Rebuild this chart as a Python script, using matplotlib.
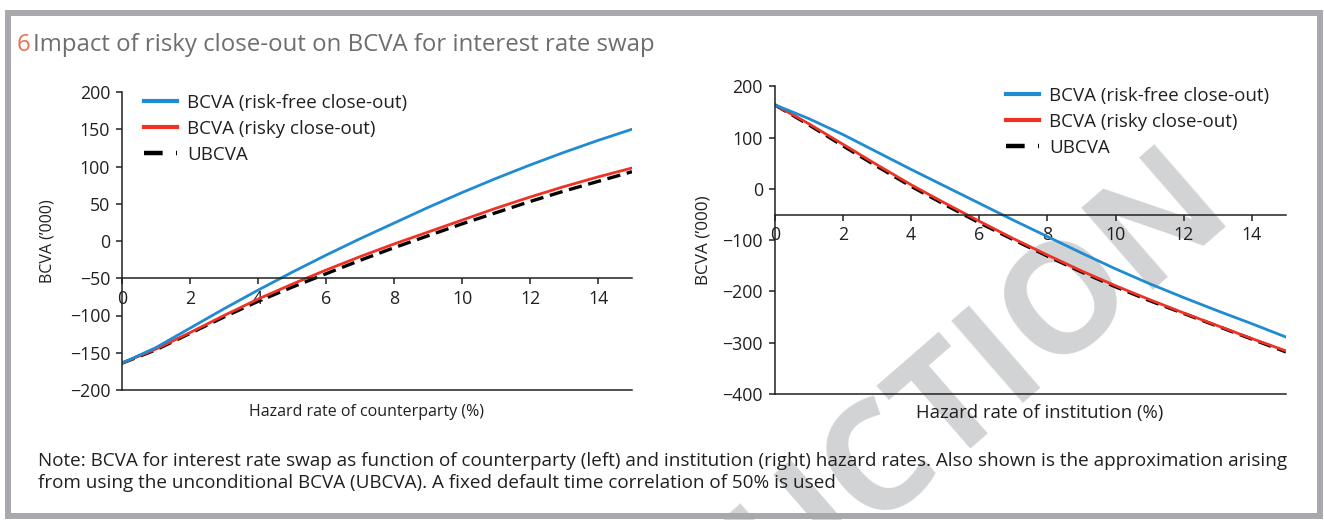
import matplotlib
matplotlib.use("Agg")
import matplotlib.pyplot as plt
from matplotlib.patches import Rectangle

plt.rcParams['font.family'] = ['Open Sans', 'DejaVu Sans']

# hazard rate grid (%)
hazard = [0, 1, 2, 3, 4, 5, 6, 7, 8, 9, 10, 11, 12, 13, 14, 15]

# left panel: vs counterparty hazard rate
cpty_riskfree = [-164, -143, -117, -91, -66, -42, -19, 3, 24, 45, 65, 84, 102, 119, 135, 150]
cpty_risky = [-164, -145, -123, -100, -78, -58, -39, -21, -4, 12, 28, 44, 59, 73, 86, 98]
cpty_ubcva = [-164, -146, -124, -102, -81, -62, -44, -26, -9, 7, 23, 38, 53, 67, 80, 93]

# right panel: vs institution hazard rate
inst_riskfree = [164, 137, 106, 72, 38, 5, -28, -61, -93, -125, -156, -185, -212, -238, -263, -289]
inst_risky = [164, 127, 87, 47, 8, -28, -63, -97, -129, -160, -189, -216, -242, -267, -292, -316]
inst_ubcva = [164, 125, 84, 44, 5, -31, -66, -99, -131, -162, -191, -218, -243, -268, -293, -318]

labels = ['BCVA (risk-free close-out)', 'BCVA (risky close-out)', 'UBCVA']
xticks = [0, 2, 4, 6, 8, 10, 12, 14]

BLUE = '#1f8bd2'
RED = '#ee3224'
INK = '#231f20'
W, H = 1324, 520

fig = plt.figure(figsize=(W / 100, H / 100), dpi=100)

# frame + title + note
fig.patches.append(Rectangle((7.5 / W, 4 / H), (1320 - 7.5) / W, (507 - 4) / H,
                             transform=fig.transFigure, fill=False,
                             edgecolor='#a7a9ac', linewidth=4.3))
fig.text(17 / W, 1 - 45 / H, '6', color='#ea7150', fontsize=17.3, va='center')
fig.text(33 / W, 1 - 45 / H, 'Impact of risky close-out on BCVA for interest rate swap',
         color='#6d6e71', fontsize=17.3, va='center')
fig.text(38 / W, 1 - 472 / H,
         'Note: BCVA for interest rate swap as function of counterparty (left) and institution (right) '
         'hazard rates. Also shown is the approximation arising\n'
         'from using the unconditional BCVA (UBCVA). A fixed default time correlation of 50% is used',
         color=INK, fontsize=13.6, va='center', linespacing=1.3)

# watermark
fig.text(1237 / W, 1 - 217 / H, 'NOT FOR REPRODUCTION', color='#d1d3d4', fontsize=110,
         fontweight='bold', rotation=41, rotation_mode='anchor', ha='right', va='baseline',
         zorder=-1)


def panel(rect, riskfree, risky, ubcva, ylim, ystep, xlabel, xlab_pos, xlab_size,
          ylab_x, ylab_size, leg_pos):
    ax = fig.add_axes(rect)
    ax.set_facecolor('none')
    ax.plot(hazard, riskfree, color=BLUE, lw=2, label=labels[0], zorder=2.2)
    ax.plot(hazard, risky, color=RED, lw=2, label=labels[1], zorder=2.1)
    ax.plot(hazard, ubcva, color='black', lw=2.4, dashes=(4, 2), label=labels[2], zorder=2.0)
    ax.set_xlim(0, 15)
    ax.set_ylim(*ylim)
    ax.set_xticks(xticks)
    ax.set_yticks(range(ylim[0], ylim[1] + 1, ystep))
    for s in ['top', 'right']:
        ax.spines[s].set_visible(False)
    ax.spines['bottom'].set_position(('data', -50))
    for s in ['left', 'bottom']:
        ax.spines[s].set_linewidth(1.1)
        ax.spines[s].set_color(INK)
    ax.axhline(ylim[0], color=INK, lw=1.1, clip_on=False)
    ax.tick_params(direction='out', length=4.5, width=1.1, color=INK,
                   labelsize=12.8, labelcolor=INK, pad=4)
    ax.set_ylabel("BCVA (’000)", fontsize=ylab_size, color=INK)
    ax.yaxis.set_label_coords(ylab_x, 0.5)
    ax.text(xlab_pos[0], xlab_pos[1], xlabel, transform=ax.transAxes, ha='center',
            va='center', fontsize=xlab_size, color=INK)
    leg = ax.legend(loc='upper left', bbox_to_anchor=leg_pos, bbox_transform=fig.transFigure,
                    frameon=False, fontsize=13.5, handlelength=1.76, handletextpad=0.53,
                    labelspacing=0.42, borderpad=0, borderaxespad=0)
    for t in leg.get_texts():
        t.set_color(INK)
    hl = leg.get_lines()
    hl[0].set_linewidth(3)
    hl[1].set_linewidth(3)
    hl[2].set_linewidth(3.2)
    hl[2].set_dashes((4.2, 3, 1.5, 3))
    return ax


panel([122 / W, 130 / H, 510 / W, 298 / H], cpty_riskfree, cpty_risky, cpty_ubcva,
      (-200, 200), 50, 'Hazard rate of counterparty (%)', (0.48, -0.074), 11.5,
      -0.131, 11.5, (144 / W, 1 - 94 / H))
panel([774.7 / W, 126 / H, 511.3 / W, 307.7 / H], inst_riskfree, inst_risky, inst_ubcva,
      (-400, 200), 100, 'Hazard rate of institution (%)', (0.519, -0.062), 13.3,
      -0.123, 12.3, (1006 / W, 1 - 87 / H))

fig.savefig('out.png', dpi=100)
